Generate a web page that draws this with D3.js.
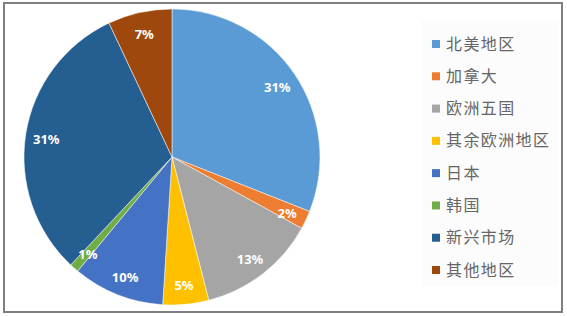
<!DOCTYPE html>
<html>
<head>
<meta charset="utf-8">
<script src="https://cdn.jsdelivr.net/npm/d3@7"></script>
<style>
  body { margin: 0; background: #fff; }
  .label { font-family: "Noto Sans", "DejaVu Sans", sans-serif; font-weight: bold; font-size: 13px; fill: #fff; text-anchor: middle; }
  .legend-text { font-family: "Noto Sans CJK SC", sans-serif; font-size: 16px; letter-spacing: 1.4px; fill: #666; }
</style>
</head>
<body>
<svg class="chart" width="567" height="316"></svg>
<script>
const regions = ['北美地区', '加拿大', '欧洲五国', '其余欧洲地区', '日本', '韩国', '新兴市场', '其他地区'];
const shares = [31, 2, 13, 5, 10, 1, 31, 7];
const colors = ['#5B9BD5', '#ED7D31', '#A5A5A5', '#FFC000', '#4472C4', '#70AD47', '#255E91', '#9E480E'];

const drawFrame = (svg) => {
  svg.append('rect')
    .attr('x', 4).attr('y', 3).attr('width', 558).attr('height', 309)
    .attr('fill', '#fff').attr('stroke', '#7f7f7f').attr('stroke-width', 2);
};

const drawPie = (svg) => {
  const center = { x: 172, y: 157 };
  const radius = 148;
  const pie = d3.pie().sort(null).value((d) => d.value);
  const arc = d3.arc().innerRadius(0).outerRadius(radius);
  const labelArc = d3.arc().innerRadius(radius * 0.86).outerRadius(radius * 0.86);
  const data = pie(regions.map((name, i) => ({ name, value: shares[i], color: colors[i] })));
  const g = svg.append('g').attr('transform', `translate(${center.x}, ${center.y})`);

  g.selectAll('path')
    .data(data)
    .enter()
    .append('path')
    .attr('d', arc)
    .attr('fill', (d) => d.data.color)
    .attr('stroke', '#fff')
    .attr('stroke-width', 0.5);

  g.selectAll('text')
    .data(data)
    .enter()
    .append('text')
    .classed('label', true)
    .attr('transform', (d) => {
      const [x, y] = labelArc.centroid(d);
      return `translate(${x}, ${y + 2})`;
    })
    .attr('dy', '0.35em')
    .text((d) => `${d.data.value}%`);
};

const drawLegend = (svg) => {
  const y = d3.scalePoint().domain(regions).range([44, 270]);
  const legend = svg.append('g');

  legend.append('rect')
    .attr('x', 421).attr('y', 21).attr('width', 137).attr('height', 265)
    .attr('fill', '#fcfcfc');

  const items = legend.selectAll('g.item')
    .data(regions)
    .enter()
    .append('g')
    .attr('transform', (d) => `translate(432, ${y(d)})`);

  items.append('rect')
    .attr('x', 0).attr('y', -4).attr('width', 8).attr('height', 8)
    .attr('fill', (d, i) => colors[i]);

  items.append('text')
    .classed('legend-text', true)
    .attr('x', 14).attr('dy', '0.35em')
    .text((d) => d);
};

const svg = d3.select('.chart');
drawFrame(svg);
drawPie(svg);
drawLegend(svg);
</script>
</body>
</html>
